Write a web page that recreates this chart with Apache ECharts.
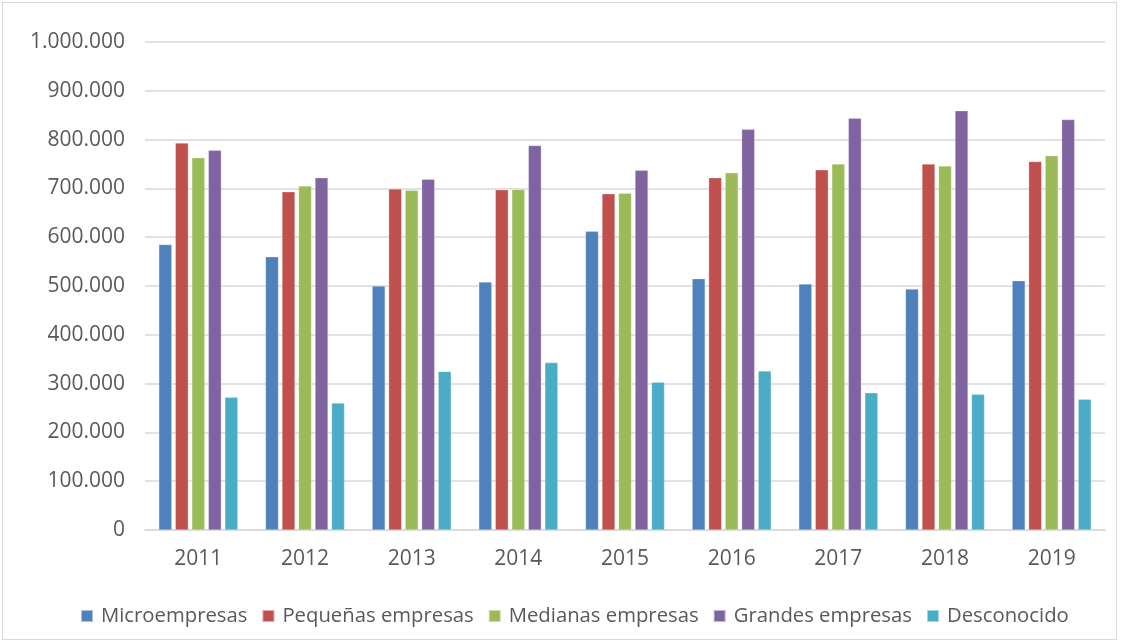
<!DOCTYPE html>
<html>
<head>
<meta charset="utf-8">
<script src="https://cdn.jsdelivr.net/npm/echarts@6/dist/echarts.min.js"></script>
<style>
html,body{margin:0;padding:0;background:#fff;}
#c{position:absolute;left:2px;top:2px;width:1115px;height:638px;border:1px solid #d9d9d9;box-sizing:border-box;}
</style>
</head>
<body>
<div id="c"></div>
<script>
const categories = ['2011','2012','2013','2014','2015','2016','2017','2018','2019'];
const seriesNames = ['Microempresas','Pequeñas empresas','Medianas empresas','Grandes empresas','Desconocido'];
const micro = [585000,560000,500000,508000,612000,515000,504000,494000,511000];
const pequenas = [793000,693000,699000,697000,689000,722000,738000,750000,755000];
const medianas = [763000,705000,696000,698000,690000,732000,750000,746000,767000];
const grandes = [778000,722000,719000,788000,737000,821000,844000,859000,841000];
const desconocido = [272000,260000,325000,343000,303000,326000,281000,278000,268000];
const colors = ['#4F81BD','#C0504D','#9BBB59','#8064A2','#4BACC6'];

const dataSets = [micro, pequenas, medianas, grandes, desconocido];
const fmt = v => String(v).replace(/\B(?=(\d{3})+(?!\d))/g, '.');
const chart = echarts.init(document.getElementById('c'));
const font = 'Open Sans';
chart.setOption({
  animation: false,
  color: colors,
  grid: {left: 142, right: 11, top: 39, bottom: 109, containLabel: false},
  legend: {
    bottom: 8, left: 72, icon: 'rect', itemWidth: 12, itemHeight: 12, itemGap: 14,
    textStyle: {fontFamily: font, fontSize: 20.3, color: '#595959', padding: [0,0,0,3]},
    data: seriesNames
  },
  xAxis: {
    type: 'category', data: categories,
    axisLine: {lineStyle: {color: '#d9d9d9', width: 1.5}},
    axisTick: {show: false},
    axisLabel: {fontFamily: font, fontSize: 21, color: '#595959', margin: 19}
  },
  yAxis: {
    type: 'value', min: 0, max: 1000000, interval: 100000,
    axisLine: {show: false}, axisTick: {show: false},
    splitLine: {lineStyle: {color: '#d9d9d9', width: 1.5}},
    axisLabel: {fontFamily: font, fontSize: 21, color: '#595959', margin: 20, formatter: v => fmt(v)}
  },
  series: seriesNames.map((n, i) => ({
    name: n, type: 'bar', data: dataSets[i], barWidth: 13, barGap: '27%',
    itemStyle: {color: colors[i], borderColor: 'rgba(255,255,255,0.5)', borderWidth: 0.5}
  }))
});
</script>
</body>
</html>
